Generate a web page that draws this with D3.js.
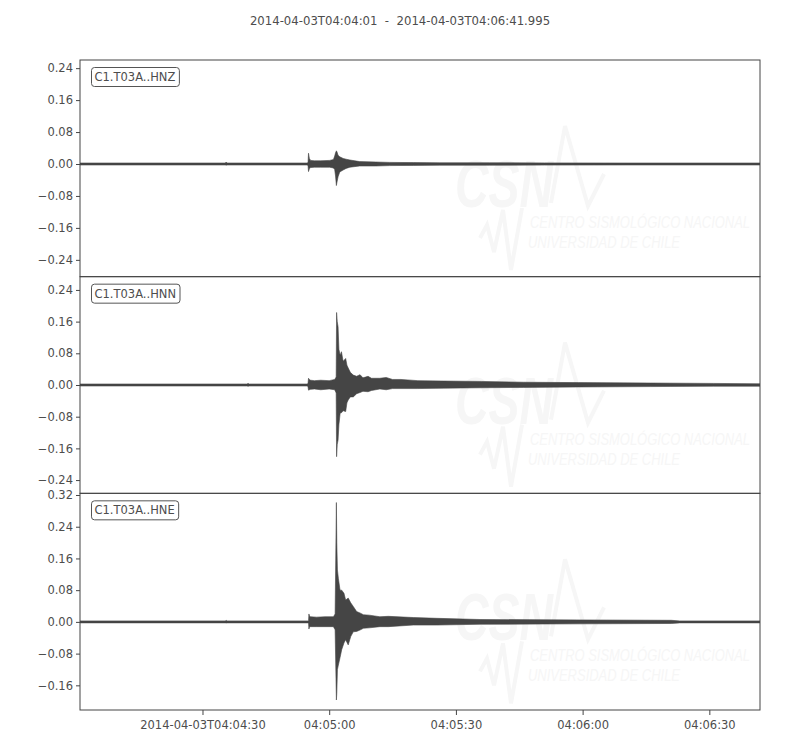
<!DOCTYPE html>
<html>
<head>
<meta charset="utf-8">
<script src="https://cdn.jsdelivr.net/npm/d3@7"></script>
<style>
  html, body { margin: 0; padding: 0; background: #fff; }
  svg { display: block; font-family: "DejaVu Sans", sans-serif; }
</style>
</head>
<body>
<svg id="chart" width="800" height="750"></svg>
<script>
// ---------------- DATA ----------------
const titleText = "2014-04-03T04:04:01  -  2014-04-03T04:06:41.995";
const startISO = "2014-04-03T04:04:01Z";
const endISO = "2014-04-03T04:06:41.995Z";
const traceLabels = ["C1.T03A..HNZ", "C1.T03A..HNN", "C1.T03A..HNE"];

const xTickTimes = ["2014-04-03T04:04:30Z", "2014-04-03T04:05:00Z", "2014-04-03T04:05:30Z", "2014-04-03T04:06:00Z", "2014-04-03T04:06:30Z"];
const xTickLabels = ["2014-04-03T04:04:30", "04:05:00", "04:05:30", "04:06:00", "04:06:30"];

const yTicksZ = [-0.24, -0.16, -0.08, 0, 0.08, 0.16, 0.24];
const yTicksN = [-0.24, -0.16, -0.08, 0, 0.08, 0.16, 0.24];
const yTicksE = [-0.16, -0.08, 0, 0.08, 0.16, 0.24, 0.32];

const yDomainZ = [-0.2821, 0.2604];
const yDomainN = [-0.2735, 0.2735];
const yDomainE = [-0.2222, 0.3242];

// Envelope of each trace: seconds after start, upper and lower amplitude
const hnzTimes = [0, 34.4, 34.6, 34.8, 53.9, 54.0, 54.1, 54.3, 54.6, 55.5, 57, 59.1, 60.0, 60.3, 60.5, 60.7, 60.85, 61.1, 61.5, 62.3, 63.0, 63.9, 66.2, 70, 73.3, 79, 85.2, 97, 110, 130, 161];
const hnzMax   = [0.0025, 0.0025, 0.005, 0.0025, 0.0025, 0.006, 0.027, 0.014, 0.009, 0.008, 0.008, 0.009, 0.011, 0.02, 0.028, 0.033, 0.03, 0.022, 0.018, 0.014, 0.012, 0.01, 0.006, 0.005, 0.004, 0.0035, 0.003, 0.003, 0.0028, 0.0025, 0.0025];
const hnzMin   = [-0.0025, -0.0025, -0.003, -0.0025, -0.0025, -0.006, -0.019, -0.012, -0.009, -0.008, -0.008, -0.008, -0.01, -0.014, -0.03, -0.054, -0.045, -0.032, -0.02, -0.015, -0.011, -0.008, -0.005, -0.005, -0.004, -0.0035, -0.003, -0.003, -0.0028, -0.0025, -0.0025];

const hnnTimes = [0, 39.5, 39.8, 40.1, 53.9, 54.0, 54.1, 54.3, 54.6, 55.5, 57, 59, 60.3, 60.65, 60.75, 60.9, 61.1, 61.3, 61.6, 61.9, 62.3, 62.9, 63.2, 63.5, 64.0, 64.7, 65.5, 66.3, 67, 68.2, 69, 71, 72.5, 74, 76, 80, 86, 95, 105, 118, 135, 150, 161];
const hnnMax   = [0.0025, 0.0025, 0.004, 0.0025, 0.0025, 0.006, 0.017, 0.014, 0.012, 0.011, 0.012, 0.011, 0.014, 0.02, 0.183, 0.16, 0.147, 0.09, 0.075, 0.084, 0.06, 0.067, 0.05, 0.043, 0.032, 0.025, 0.022, 0.026, 0.018, 0.022, 0.017, 0.017, 0.019, 0.014, 0.014, 0.011, 0.01, 0.009, 0.007, 0.006, 0.005, 0.004, 0.003];
const hnnMin   = [-0.0025, -0.0025, -0.003, -0.0025, -0.0025, -0.006, -0.013, -0.012, -0.011, -0.01, -0.012, -0.01, -0.012, -0.02, -0.181, -0.15, -0.139, -0.1, -0.071, -0.07, -0.065, -0.067, -0.045, -0.038, -0.03, -0.03, -0.022, -0.019, -0.016, -0.017, -0.014, -0.01, -0.012, -0.009, -0.009, -0.009, -0.008, -0.007, -0.006, -0.005, -0.004, -0.003, -0.003];

const hneTimes = [0, 34.4, 34.6, 34.8, 54.1, 54.2, 54.35, 54.6, 56, 58, 60.0, 60.4, 60.7, 60.8, 60.95, 61.17, 61.57, 61.96, 62.5, 62.9, 63.5, 64.1, 64.7, 65.5, 66.4, 67.1, 68.5, 71.0, 73, 78.9, 84.5, 94.7, 118.4, 140, 142, 161];
const hneMax   = [0.0025, 0.0025, 0.004, 0.0025, 0.0025, 0.02, 0.014, 0.013, 0.012, 0.013, 0.013, 0.02, 0.301, 0.2, 0.131, 0.11, 0.08, 0.08, 0.072, 0.055, 0.06, 0.048, 0.039, 0.026, 0.022, 0.018, 0.017, 0.013, 0.014, 0.011, 0.009, 0.006, 0.005, 0.004, 0.0025, 0.0025];
const hneMin   = [-0.0025, -0.0025, -0.003, -0.0025, -0.0025, -0.018, -0.012, -0.012, -0.012, -0.012, -0.012, -0.02, -0.197, -0.18, -0.12, -0.109, -0.09, -0.07, -0.053, -0.045, -0.058, -0.037, -0.025, -0.024, -0.02, -0.016, -0.015, -0.012, -0.012, -0.008, -0.008, -0.006, -0.005, -0.004, -0.0025, -0.0025];

// ---------------- LAYOUT ----------------
const svg = d3.select("#chart");
const leftX = 80, rightX = 760, topY = 60, bottomY = 710;
const nPanels = 3;
const panelH = (bottomY - topY) / nPanels;
const textColor = "#4d4d4d";
const lineColor = "#454545";
const fontSize = 11.5;

const t0 = new Date(startISO);
const x = d3.scaleUtc().domain([t0, new Date(endISO)]).range([leftX, rightX]);
const toDate = s => new Date(t0.getTime() + s * 1000);

const panels = [
  { label: traceLabels[0], times: hnzTimes, max: hnzMax, min: hnzMin, ticks: yTicksZ, domain: yDomainZ },
  { label: traceLabels[1], times: hnnTimes, max: hnnMax, min: hnnMin, ticks: yTicksN, domain: yDomainN },
  { label: traceLabels[2], times: hneTimes, max: hneMax, min: hneMin, ticks: yTicksE, domain: yDomainE }
];

const fmt = v => {
  const s = Math.abs(v).toFixed(2);
  return v < -1e-9 ? "\u2212" + s : s;
};

// Title
svg.append("text")
  .attr("x", 400).attr("y", 25)
  .attr("text-anchor", "middle")
  .attr("fill", textColor)
  .attr("font-size", 11.7)
  .style("white-space", "pre")
  .attr("xml:space", "preserve")
  .text(titleText);

const wmColor = "#f6f6f6";
function watermark(g) {
  g.append("polyline")
    .attr("points", "551,143 565,66 588,146 604,114")
    .attr("fill", "none").attr("stroke", wmColor).attr("stroke-width", 4);
  g.append("text")
    .attr("x", 455).attr("y", 147)
    .attr("font-family", "Liberation Sans, sans-serif")
    .attr("font-weight", "bold").attr("font-style", "italic")
    .attr("font-size", 66)
    .attr("textLength", 98).attr("lengthAdjust", "spacingAndGlyphs")
    .attr("fill", wmColor)
    .text("CSN");
  g.append("polyline")
    .attr("points", "480,178 487,165 494,192 503,150 511,210 522,148")
    .attr("fill", "none").attr("stroke", wmColor).attr("stroke-width", 4);
  g.append("text")
    .attr("x", 530).attr("y", 168)
    .attr("font-family", "Liberation Sans, sans-serif")
    .attr("font-style", "italic")
    .attr("font-size", 16)
    .attr("textLength", 220).attr("lengthAdjust", "spacingAndGlyphs")
    .attr("fill", wmColor)
    .text("CENTRO SISMOLÓGICO NACIONAL");
  g.append("text")
    .attr("x", 528).attr("y", 188)
    .attr("font-family", "Liberation Sans, sans-serif")
    .attr("font-style", "italic")
    .attr("font-size", 16)
    .attr("textLength", 152).attr("lengthAdjust", "spacingAndGlyphs")
    .attr("fill", wmColor)
    .text("UNIVERSIDAD DE CHILE");
}

panels.forEach((p, i) => {
  const pTop = topY + i * panelH;
  const pBot = pTop + panelH;
  const y = d3.scaleLinear().domain(p.domain).range([pBot, pTop]);

  // watermark (lies fully inside the panel)
  const wm = svg.append("g").attr("transform", `translate(0,${pTop})`);
  watermark(wm);

  const clipId = "clip" + i;
  svg.append("clipPath").attr("id", clipId)
    .append("rect").attr("x", leftX).attr("y", pTop).attr("width", rightX - leftX).attr("height", panelH);

  const g = svg.append("g").attr("clip-path", `url(#${clipId})`);

  const pts = p.times.map((t, k) => ({ t: toDate(t), hi: p.max[k], lo: p.min[k] }));
  const area = d3.area()
    .x(d => x(d.t))
    .y0(d => y(d.lo))
    .y1(d => y(d.hi))
    .curve(d3.curveLinear);
  g.append("path")
    .datum(pts)
    .attr("d", area)
    .attr("fill", lineColor)
    .attr("stroke", lineColor)
    .attr("stroke-width", 0.6)
    .attr("stroke-linejoin", "miter");

  const yAxis = d3.axisLeft(y).tickValues(p.ticks).tickFormat(fmt).tickSize(4).tickPadding(3);
  const ga = svg.append("g").attr("transform", `translate(${leftX},0)`).call(yAxis);
  ga.select(".domain").remove();
  ga.selectAll(".tick line").attr("stroke", lineColor).attr("stroke-width", 1);
  ga.selectAll(".tick text").attr("fill", textColor).attr("font-size", fontSize)
    .attr("font-family", "DejaVu Sans, sans-serif");

  svg.append("rect")
    .attr("x", leftX).attr("y", pTop)
    .attr("width", rightX - leftX).attr("height", panelH)
    .attr("fill", "none").attr("stroke", lineColor).attr("stroke-width", 1);

  const lg = svg.append("g").attr("transform", `translate(${leftX + 11},${pTop + 7})`);
  const txt = lg.append("text")
    .attr("x", 3.5).attr("y", 14)
    .attr("fill", textColor)
    .attr("font-size", fontSize)
    .text(p.label);
  const bb = txt.node().getBBox();
  lg.insert("rect", "text")
    .attr("x", 0.5).attr("y", 0.5)
    .attr("width", bb.width + 7).attr("height", 19)
    .attr("rx", 3).attr("ry", 3)
    .attr("fill", "#fff").attr("stroke", "#555").attr("stroke-width", 1);

  if (i === nPanels - 1) {
    const xAxis = d3.axisBottom(x)
      .tickValues(xTickTimes.map(s => new Date(s)))
      .tickFormat((d, k) => xTickLabels[k])
      .tickSize(5).tickPadding(6);
    const gx = svg.append("g").attr("transform", `translate(0,${bottomY})`).call(xAxis);
    gx.select(".domain").remove();
    gx.selectAll(".tick line").attr("stroke", lineColor);
    gx.selectAll(".tick text").attr("fill", textColor).attr("font-size", fontSize)
      .attr("font-family", "DejaVu Sans, sans-serif");
  }
});
</script>
</body>
</html>
